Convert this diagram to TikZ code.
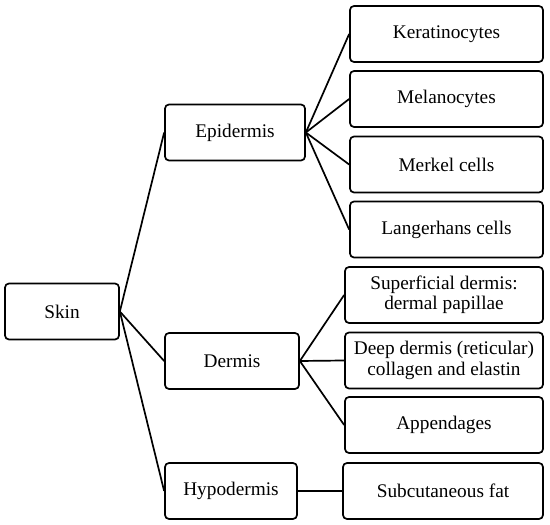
\documentclass[tikz,border=0pt]{standalone}
\usepackage{fontspec}
\setmainfont{Liberation Serif}
\usepackage{tikz}

\begin{document}
\begin{tikzpicture}[x=1pt,y=1pt,line width=1.7pt,
                every node/.style={draw,rounded corners=4pt,align=center,
                    inner sep=1pt,minimum height=56pt,
                    font=\fontsize{19.3}{20.5}\selectfont}]
    \useasboundingbox (0,0) rectangle (550,525);
    % first level
    \node[minimum width=114pt] (skin) at (62,213.5) {Skin};
    % second level
    \node[minimum width=140pt] (epi) at (235,392.5) {Epidermis};
    \node[minimum width=134pt] (derm) at (232,164) {Dermis};
    \node[minimum width=132pt] (hypo) at (231,34) {Hypodermis};
    % third level
    \node[minimum width=193pt] (kera) at (446.5,491) {Keratinocytes};
    \node[minimum width=193pt] (mela) at (446.5,426) {Melanocytes};
    \node[minimum width=193pt] (merk) at (446.5,360.5) {Merkel cells};
    \node[minimum width=193pt] (lang) at (446.5,295.5) {Langerhans cells};
    \node[minimum width=198pt] (supf) at (444,230) {Superficial dermis:\\dermal papillae};
    \node[minimum width=198pt] (deep) at (444,164.5) {Deep dermis (reticular)\\collagen and elastin};
    \node[minimum width=198pt] (appe) at (444,100) {Appendages};
    \node[minimum width=200pt] (subc) at (443,34) {Subcutaneous fat};

    \foreach \b in {epi,derm,hypo}
        \draw (skin.east) -- (\b.west);
    \foreach \b in {kera,mela,merk,lang}
        \draw (epi.east) -- (\b.west);
    \foreach \b in {supf,deep,appe}
        \draw (derm.east) -- (\b.west);
    \draw (hypo.east) -- (subc.west);
\end{tikzpicture}
\end{document}
